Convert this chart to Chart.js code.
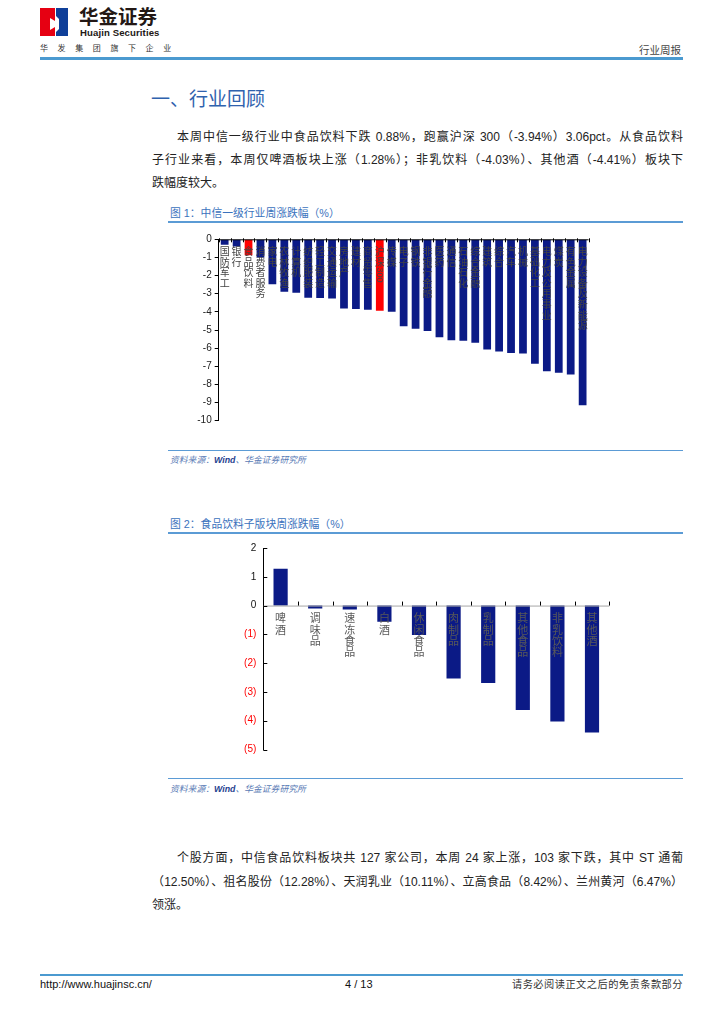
<!DOCTYPE html>
<html><head><meta charset="utf-8">
<script src="https://cdn.jsdelivr.net/npm/chart.js@4.4.1/dist/chart.umd.min.js"></script>
<style>
html,body{margin:0;padding:0;background:#fff;}
body{width:724px;height:1024px;position:relative;overflow:hidden;font-family:"Liberation Sans","Noto Sans CJK SC",sans-serif;color:#222;}
.abs{position:absolute;white-space:nowrap;}
.jl{position:absolute;text-align:justify;text-align-last:justify;font-size:12px;line-height:20px;height:20px;overflow:hidden;color:#222;}
.ln{position:absolute;text-align:left;font-size:12px;line-height:20px;color:#222;white-space:nowrap;}
.hr{position:absolute;background:#5b9bd5;}
.ttl{position:absolute;font-size:10.8px;color:#3a72bd;white-space:nowrap;line-height:14px;}
.src{position:absolute;font-size:8.8px;color:#5a7bb5;font-style:italic;white-space:nowrap;line-height:12px;}
.src b{color:#1f3f8f;}
canvas{position:absolute;}
</style>
</head>
<body>
<!-- header -->
<svg class="abs" style="left:40px;top:8px" width="28" height="28" viewBox="0 0 28 28">
  <rect x="0" y="0" width="15" height="28" fill="#e60012"/>
  <rect x="16" y="0" width="12" height="28" fill="#0f3f99"/>
  <polygon points="10,10 15,13 15,19 10,22" fill="#fff"/>
  <polygon points="16,8 19,11 19,21 16,24" fill="#fff"/>
</svg>
<div class="abs" style="left:79px;top:4px;font-size:19.5px;font-weight:bold;color:#231815;font-family:'Noto Sans CJK SC';line-height:24px;">华金证券</div>
<div class="abs" style="left:80px;top:27px;font-size:9.6px;font-weight:bold;color:#231815;line-height:12px;letter-spacing:0.1px;">Huajin Securities</div>
<div class="abs" style="left:40px;top:42px;font-size:8px;color:#333;letter-spacing:9.6px;line-height:11px;font-family:'Noto Sans CJK SC';">华发集团旗下企业</div>
<div class="abs" style="left:639px;top:43px;font-size:10.5px;color:#444;line-height:14px;font-family:'Noto Sans CJK SC';">行业周报</div>
<div class="hr" style="left:40px;top:57px;width:643px;height:3px;background:#4b9ad0;"></div>

<!-- section heading -->
<div class="abs" style="left:151px;top:85px;font-size:19px;color:#2f62ae;line-height:26px;font-family:'Noto Sans CJK SC';">一、行业回顾</div>

<!-- paragraph 1 -->
<div class="jl" style="left:177px;top:127px;width:506px;">本周中信一级行业中食品饮料下跌 0.88%，跑赢沪深 300（-3.94%）3.06pct。从食品饮料</div>
<div class="jl" style="left:152px;top:150px;width:531px;">子行业来看，本周仅啤酒板块上涨（1.28%）；非乳饮料（-4.03%）、其他酒（-4.41%）板块下</div>
<div class="ln" style="left:152px;top:173px;">跌幅度较大。</div>

<!-- chart 1 -->
<div class="ttl" style="left:170px;top:206px;">图 1：中信一级行业周涨跌幅（%）</div>
<div class="hr" style="left:168px;top:221px;width:515px;height:1.5px;"></div>
<canvas id="c1" width="440" height="200" style="left:160px;top:230px;width:440px;height:200px;"></canvas>
<div class="hr" style="left:168px;top:450px;width:515px;height:1.2px;"></div>
<div class="src" style="left:170px;top:454px;">资料来源：<b>Wind</b>、华金证券研究所</div>

<!-- chart 2 -->
<div class="ttl" style="left:170px;top:517px;">图 2：食品饮料子版块周涨跌幅（%）</div>
<div class="hr" style="left:168px;top:532px;width:515px;height:1.5px;"></div>
<canvas id="c2" width="420" height="230" style="left:200px;top:535px;width:420px;height:230px;"></canvas>
<div class="hr" style="left:168px;top:778px;width:515px;height:1.2px;"></div>
<div class="src" style="left:170px;top:783px;">资料来源：<b>Wind</b>、华金证券研究所</div>

<!-- paragraph 2 -->
<div class="jl" style="left:177px;top:848px;width:506px;">个股方面，中信食品饮料板块共 127 家公司，本周 24 家上涨，103 家下跌，其中 ST 通葡</div>
<div class="jl" style="left:152px;top:872px;width:531px;">（12.50%）、祖名股份（12.28%）、天润乳业（10.11%）、立高食品（8.42%）、兰州黄河（6.47%）</div>
<div class="ln" style="left:152px;top:895px;">领涨。</div>

<!-- footer -->
<div class="hr" style="left:40px;top:974px;width:643px;height:1.5px;background:#4b9ad0;"></div>
<div class="abs" style="left:40px;top:977px;font-size:11px;color:#111;line-height:14px;">http://www.huajinsc.cn/</div>
<div class="abs" style="left:345px;top:977px;font-size:11px;color:#111;line-height:14px;">4 / 13</div>
<div class="abs" style="right:41px;top:977px;font-size:10.2px;color:#333;line-height:14px;letter-spacing:0.5px;font-family:'Noto Sans CJK SC';">请务必阅读正文之后的免责条款部分</div>

<script>
// ---------- data ----------
const industries = ["国防军工","银行","食品饮料","消费者服务","家电","农林牧渔","计算机","纺织服装","轻工制造","交通运输","房地产","建材","商贸零售","沪深300","传媒","电子","钢铁","非银行金融","医药","通信","石油石化","综合金融","建筑","综合","汽车","机械","基础化工","电力及公用事业","煤炭","有色金属","电力设备及新能源"];
const industryChange = [-0.30,-0.40,-0.88,-1.00,-2.48,-2.89,-2.94,-3.22,-3.24,-3.27,-3.82,-3.84,-3.88,-3.94,-3.99,-4.80,-4.93,-5.05,-5.40,-5.57,-5.59,-5.70,-6.08,-6.19,-6.27,-6.30,-6.86,-7.28,-7.35,-7.46,-9.15];
const highlighted = ["食品饮料","沪深300"];
const yTicks1 = {min:-10, max:0, step:1};

const subsectors = ["啤酒","调味品","速冻食品","白酒","休闲食品","肉制品","乳制品","其他食品","非乳饮料","其他酒"];
const subsectorChange = [1.28,-0.10,-0.14,-0.56,-1.02,-2.53,-2.69,-3.63,-4.03,-4.41];
const yTicks2 = {min:-5, max:2, step:1};

// ---------- styles ----------
const NAVY = '#0b1a86', RED = '#ff0000';
const CJK = "'Noto Sans CJK SC', sans-serif";
const LAT = "'Liberation Sans', Arial, sans-serif";

function verticalLabels(opts){
  return {
    id:'vlabels'+opts.id,
    afterDatasetsDraw(chart){
      const ctx = chart.ctx, xs = chart.scales.x, ys = chart.scales.y, ca = chart.chartArea;
      const y0 = ys.getPixelForValue(0);
      const step = xs.getPixelForValue(1) - xs.getPixelForValue(0);
      ctx.save();
      // zero axis line
      ctx.strokeStyle = opts.axisColor; ctx.lineWidth = 1;
      ctx.beginPath(); ctx.moveTo(ca.left, y0+0.5); ctx.lineTo(ca.right, y0+0.5); ctx.stroke();
      // category boundary ticks
      ctx.strokeStyle = '#000';
      const n = chart.data.labels.length;
      for(let i=0;i<=n;i++){
        const bx = Math.round(xs.getPixelForValue(0) - step/2 + i*step)+0.5;
        ctx.beginPath(); ctx.moveTo(bx, y0+opts.tickFrom); ctx.lineTo(bx, y0+opts.tickTo); ctx.stroke();
      }
      // inward y ticks
      if(opts.yInward){
        ctx.strokeStyle='#000';
        ys.ticks.forEach(t=>{
          const py = Math.round(ys.getPixelForValue(t.value))+0.5;
          ctx.beginPath(); ctx.moveTo(ca.left, py); ctx.lineTo(ca.left+4, py); ctx.stroke();
        });
      }
      // vertical labels
      ctx.fillStyle = opts.textColor;
      ctx.font = opts.fontSize + 'px ' + CJK;
      ctx.textAlign = 'center'; ctx.textBaseline = 'top';
      chart.data.labels.forEach((lab,i)=>{
        const cx = xs.getPixelForValue(i);
        const chars = Array.from(lab);
        let k = 0;
        const parts = [];
        let buf = '';
        chars.forEach(c=>{ if(/[0-9]/.test(c)){ buf+=c; } else { if(buf){parts.push(buf); buf='';} parts.push(c);} });
        if(buf) parts.push(buf);
        parts.forEach(p=>{
          if(/^[0-9]+$/.test(p)){
            ctx.save();
            ctx.translate(cx, y0+opts.start+k*opts.spacing);
            ctx.rotate(Math.PI/2);
            ctx.font = (opts.fontSize-1)+'px '+LAT;
            ctx.textAlign='left'; ctx.textBaseline='middle';
            ctx.fillText(p,0,0);
            const w = ctx.measureText(p).width;
            ctx.restore();
            k += w/opts.spacing + 0.1;
          } else {
            ctx.fillText(p, cx, y0+opts.start+k*opts.spacing);
            k++;
          }
        });
      });
      ctx.restore();
    }
  };
}

// ---------- chart 1 ----------
new Chart(document.getElementById('c1'), {
  type:'bar',
  data:{ labels: industries, datasets:[{ data: industryChange,
    backgroundColor: c => highlighted.includes(industries[c.dataIndex]) ? RED : NAVY,
    borderWidth:0, barPercentage:0.65, categoryPercentage:1 }]},
  options:{
    responsive:false, animation:false, devicePixelRatio:1,
    layout:{ padding:{ top:9.3, bottom:9.3, right:11.4, left:0 } },
    plugins:{ legend:{display:false}, tooltip:{enabled:false} },
    scales:{
      x:{ display:false },
      y:{ min:yTicks1.min, max:yTicks1.max,
          ticks:{ stepSize:yTicks1.step, font:{size:10, family:LAT}, color:'#222', padding:3 },
          grid:{ drawOnChartArea:false, tickLength:4, color:'#000' },
          border:{ display:true, color:'#000', width:1 },
          afterFit(s){ s.width = 58.7; } }
    }
  },
  plugins:[ verticalLabels({id:1, axisColor:'#000', tickFrom:-1, tickTo:3, textColor:'#444', fontSize:10, start:7, spacing:10.6}) ]
});

// ---------- chart 2 ----------
new Chart(document.getElementById('c2'), {
  type:'bar',
  data:{ labels: subsectors, datasets:[{ data: subsectorChange,
    backgroundColor: NAVY, borderWidth:0, barPercentage:0.41, categoryPercentage:1 }]},
  options:{
    responsive:false, animation:false, devicePixelRatio:1,
    layout:{ padding:{ top:12.9, bottom:15.5, right:10.7, left:0 } },
    plugins:{ legend:{display:false}, tooltip:{enabled:false} },
    scales:{
      x:{ display:false },
      y:{ min:yTicks2.min, max:yTicks2.max,
          ticks:{ stepSize:yTicks2.step, font:{size:10, family:LAT}, padding:7,
                  color: c => c.tick && c.tick.value < 0 ? '#ff0000' : '#111',
                  callback: v => v < 0 ? '(' + (-v) + ')' : String(v) },
          grid:{ display:false, drawTicks:false, tickLength:0 },
          border:{ display:true, color:'#000', width:1 },
          afterFit(s){ s.width = 63.3; } }
    }
  },
  plugins:[ verticalLabels({id:2, axisColor:'#a6a6a6', tickFrom:-4, tickTo:0, textColor:'#595959', fontSize:11, start:7, spacing:11.3, yInward:true}) ]
});
</script>
</body></html>
